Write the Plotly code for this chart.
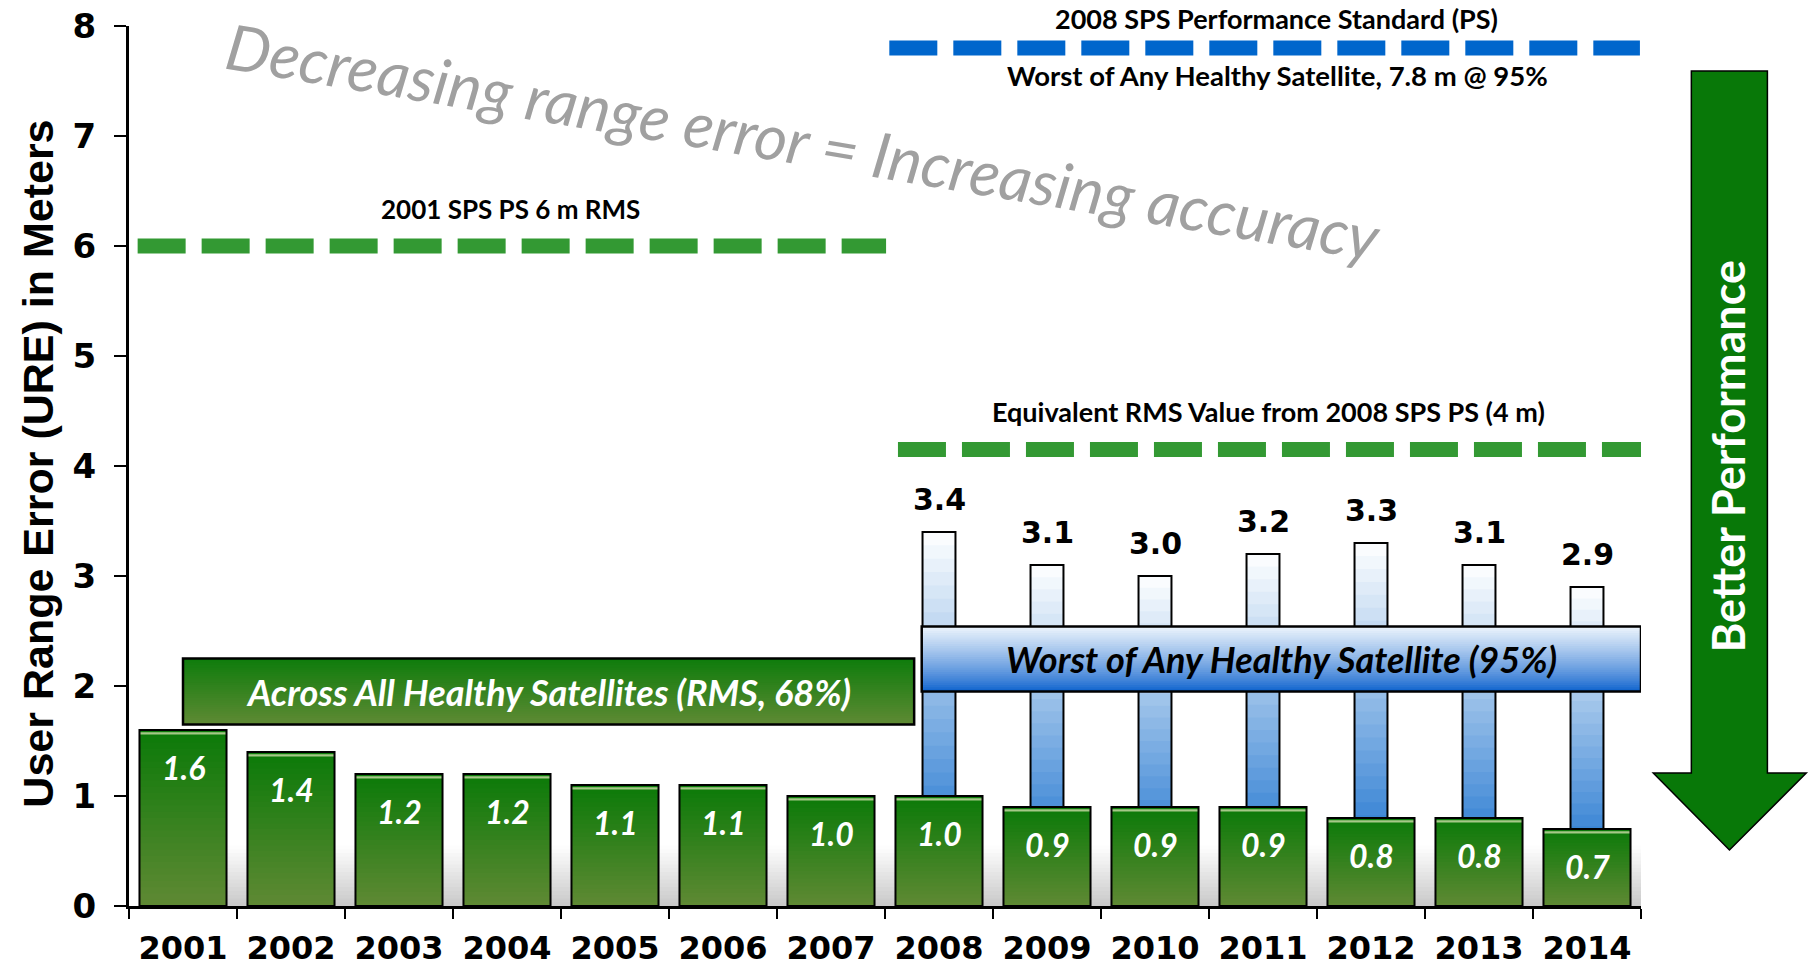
import plotly.graph_objects as go

# ---------------- data ----------------
years = ["2001", "2002", "2003", "2004", "2005", "2006", "2007",
         "2008", "2009", "2010", "2011", "2012", "2013", "2014"]
rms_values = [1.6, 1.4, 1.2, 1.2, 1.1, 1.1, 1.0, 1.0, 0.9, 0.9, 0.9, 0.8, 0.8, 0.7]
worst_years = ["2008", "2009", "2010", "2011", "2012", "2013", "2014"]
worst_values = [3.4, 3.1, 3.0, 3.2, 3.3, 3.1, 2.9]
y_tick_values = [0, 1, 2, 3, 4, 5, 6, 7, 8]

# reference standard levels (meters)
level_2001_rms = 6.0
level_2008_worst = 7.8
level_2008_rms_equiv = 4.15

# ---------------- styling helpers ----------------
GREEN_TOP = (10, 122, 8)
GREEN_BOT = (96, 137, 52)
BLUE_TOP = (255, 255, 255)
BLUE_BOT = (0, 97, 200)
BOXB_TOP = (236, 244, 252)
BOXB_BOT = (8, 94, 204)


def lerp(c_bot, c_top, t):
    return "rgb(%d,%d,%d)" % tuple(round(a + (b - a) * t) for a, b in zip(c_bot, c_top))


N = 28
GREEN_W = 0.806
BLUE_W = 0.305

fig = go.Figure()

# blue (worst satellite, 95%) bars - gradient by overlaid shrinking bars
for k in range(N, 0, -1):
    f = k / N
    fig.add_trace(go.Bar(
        x=worst_years, y=[v * f for v in worst_values], width=BLUE_W,
        marker=dict(color=lerp(BLUE_BOT, BLUE_TOP, (k - 0.5) / N), line=dict(width=0)),
        hoverinfo="skip", showlegend=False))
fig.add_trace(go.Bar(
    x=worst_years, y=worst_values, width=BLUE_W,
    marker=dict(color="rgba(0,0,0,0)", line=dict(color="black", width=2)),
    hoverinfo="skip", showlegend=False))

# green (RMS, 68%) bars
for k in range(N, 0, -1):
    f = k / N
    fig.add_trace(go.Bar(
        x=years, y=[v * f for v in rms_values], width=GREEN_W,
        marker=dict(color=lerp(GREEN_BOT, GREEN_TOP, (k - 0.5) / N), line=dict(width=0)),
        hoverinfo="skip", showlegend=False))
# light highlight near bar top
fig.add_trace(go.Bar(
    x=years, y=[0.022] * len(rms_values), base=[v - 0.042 for v in rms_values],
    width=GREEN_W, marker=dict(color="rgb(165,200,135)", line=dict(width=0)),
    hoverinfo="skip", showlegend=False))
fig.add_trace(go.Bar(
    x=years, y=rms_values, width=GREEN_W,
    marker=dict(color="rgba(0,0,0,0)", line=dict(color="black", width=2)),
    hoverinfo="skip", showlegend=False))

shapes = []

# soft grey shadow at the foot of the bars
NS = 16
for k in range(NS, 0, -1):
    shapes.append(dict(type="rect", xref="x", yref="y", layer="below",
                       x0=0.35, x1=13.5, y0=0, y1=0.55 * k / NS,
                       fillcolor=lerp((200, 200, 200), (255, 255, 255), (k - 0.5) / NS),
                       line=dict(width=0)))

# dashed standard lines
dash = "48px,16px"
shapes.append(dict(type="line", xref="x", yref="y", x0=-0.42, x1=6.51,
                   y0=level_2001_rms, y1=level_2001_rms,
                   line=dict(color="rgb(51,153,51)", width=15, dash=dash)))
shapes.append(dict(type="line", xref="x", yref="y", x0=6.54, x1=13.49,
                   y0=level_2008_worst, y1=level_2008_worst,
                   line=dict(color="rgb(0,102,204)", width=15, dash=dash)))
shapes.append(dict(type="line", xref="x", yref="y", x0=6.62, x1=13.57,
                   y0=level_2008_rms_equiv, y1=level_2008_rms_equiv,
                   line=dict(color="rgb(51,153,51)", width=15, dash=dash)))


def gradient_box(x0, x1, y0, y1, c_bot, c_top, gamma=1.0, n=30):
    out = []
    for k in range(n, 0, -1):
        t = ((k - 0.5) / n) ** gamma
        out.append(dict(type="rect", xref="x", yref="y", x0=x0, x1=x1,
                        y0=y0, y1=y0 + (y1 - y0) * k / n,
                        fillcolor=lerp(c_bot, c_top, t), line=dict(width=0)))
    out.append(dict(type="rect", xref="x", yref="y", x0=x0, x1=x1, y0=y0, y1=y1,
                    fillcolor="rgba(0,0,0,0)", line=dict(color="black", width=2.5)))
    return out


green_box = (0.0, 6.77, 1.65, 2.25)
blue_box = (6.84, 13.5, 1.95, 2.54)
shapes += gradient_box(*green_box, (95, 138, 52), (14, 124, 12))
shapes += gradient_box(*blue_box, BOXB_BOT, BOXB_TOP, gamma=0.8)

# "Better Performance" arrow (paper coordinates)
shapes.append(dict(
    type="path", xref="paper", yref="paper",
    path="M 1.0333,0.9489 L 1.0836,0.9489 L 1.0836,0.1511 L 1.1093,0.1511 "
         "L 1.0585,0.0636 L 1.0081,0.1511 L 1.0333,0.1511 Z",
    fillcolor="rgb(8,120,8)", line=dict(color="black", width=1.5)))

annotations = []
for yr, v in zip(years, rms_values):
    annotations.append(dict(x=years.index(yr), y=v, xref="x", yref="y", text=f"{v:.1f}",
                            showarrow=False, yshift=-37, xanchor="center", yanchor="middle",
                            font=dict(family="Lato", size=32, color="white",
                                      weight="bold", style="italic")))
for yr, v in zip(worst_years, worst_values):
    annotations.append(dict(x=years.index(yr), y=v, xref="x", yref="y", text=f"{v:.1f}",
                            showarrow=False, yshift=33, xanchor="center", yanchor="middle",
                            font=dict(family="DejaVu Sans", size=30, color="black",
                                      weight="bold")))

lbl_font = dict(family="Lato", size=27, color="black", weight="bold")
C = dict(showarrow=False, xanchor="center", yanchor="middle")
annotations += [
    dict(x=0.2522, y=0.792, xref="paper", yref="paper", text="2001 SPS PS 6 m RMS",
         font=dict(lbl_font, size=26), **C),
    dict(x=0.7588, y=1.0085, xref="paper", yref="paper",
         text="2008 SPS Performance Standard (PS)", font=lbl_font, **C),
    dict(x=0.7595, y=0.9432, xref="paper", yref="paper",
         text="Worst of Any Healthy Satellite, 7.8 m @ 95%", font=dict(lbl_font, size=27.5), **C),
    dict(x=0.7535, y=0.5614, xref="paper", yref="paper",
         text="Equivalent RMS Value from 2008 SPS PS (4 m)", font=lbl_font, **C),
    dict(x=(green_box[0] + green_box[1]) / 2, y=(green_box[2] + green_box[3]) / 2,
         xref="x", yref="y", text="Across All Healthy Satellites (RMS, 68%)",
         font=dict(family="Lato", size=36, color="white", weight="bold", style="italic"), **C),
    dict(x=(blue_box[0] + blue_box[1]) / 2, y=(blue_box[2] + blue_box[3]) / 2,
         xref="x", yref="y", text="Worst of Any Healthy Satellite (95%)",
         font=dict(family="Lato", size=36, color="black", weight="bold", style="italic"), **C),
    dict(x=0.446, y=0.870, xref="paper", yref="paper",
         text="Decreasing range error = Increasing accuracy", textangle=9.5,
         font=dict(family="Lato", size=63, color="rgb(160,160,160)", style="italic"), **C),
    dict(x=1.0578, y=0.5114, xref="paper", yref="paper", text="Better Performance",
         textangle=-90, font=dict(family="Lato", size=45, color="white", weight="bold"), **C),
    dict(x=-0.060, y=0.503, xref="paper", yref="paper",
         text="User Range Error (URE) in Meters", textangle=-90,
         font=dict(family="Liberation Sans", size=43, color="black", weight="bold"), **C),
]

fig.update_layout(
    width=1810, height=966, autosize=False,
    margin=dict(l=129, r=169, t=26, b=60, pad=0),
    paper_bgcolor="white", plot_bgcolor="white",
    barmode="overlay", showlegend=False,
    shapes=shapes, annotations=annotations,
    xaxis=dict(type="category", categoryarray=years, categoryorder="array",
               range=[-0.5, 13.5], tickson="boundaries", ticks="outside",
               ticklen=10, tickwidth=2, tickcolor="black", showline=True,
               linewidth=3, linecolor="black", showgrid=False, zeroline=False,
               automargin=False, ticklabelstandoff=12,
               tickfont=dict(family="DejaVu Sans", size=32, color="black", weight="bold")),
    yaxis=dict(range=[0, 8], tickvals=y_tick_values, ticks="outside", ticklen=12,
               tickwidth=2, tickcolor="black", showline=True, linewidth=3,
               linecolor="black", showgrid=False, zeroline=False,
               automargin=False, ticklabelstandoff=11,
               tickfont=dict(family="DejaVu Sans", size=34, color="black", weight="bold")),
)

fig.write_html("out.html", config={"displayModeBar": False},
               post_script="document.body.style.margin='0';document.body.style.overflow='hidden';")
